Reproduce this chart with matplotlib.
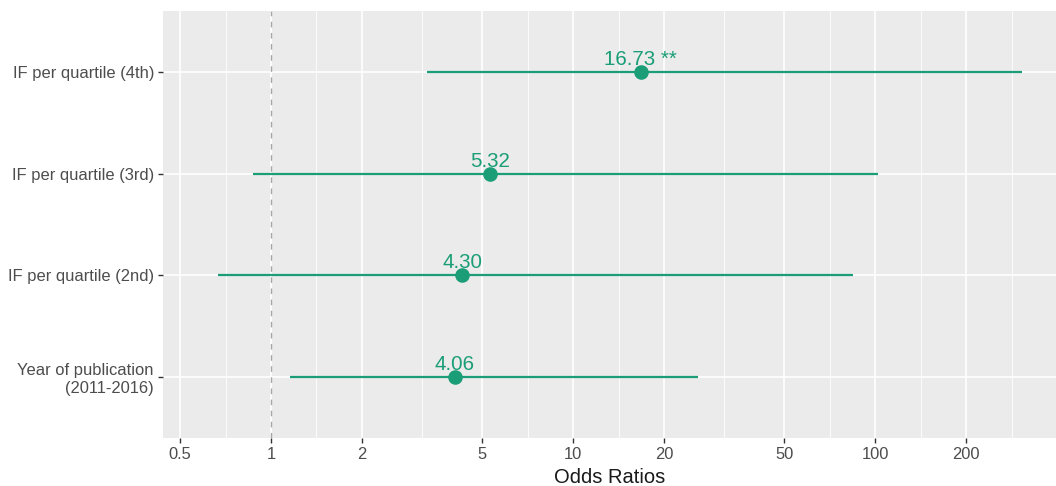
import numpy as np
import matplotlib
matplotlib.use("Agg")
import matplotlib.pyplot as plt
from matplotlib.ticker import FixedLocator, NullFormatter

plt.rcParams['font.family'] = ['Liberation Sans', 'DejaVu Sans']

# Data
terms = ["Year of publication\n(2011-2016)", "IF per quartile (2nd)", "IF per quartile (3rd)", "IF per quartile (4th)"]
estimates = [4.06, 4.30, 5.32, 16.73]
conf_low = [1.156, 0.670, 0.874, 3.28]
conf_high = [25.9, 84.4, 102.6, 306.0]
labels = ["4.06", "4.30", "5.32", "16.73 **"]
xticks = [0.5, 1, 2, 5, 10, 20, 50, 100, 200]
xtick_labels = ["0.5", "1", "2", "5", "10", "20", "50", "100", "200"]

color = "#1b9e77"
W, H = 1056, 486
fig = plt.figure(figsize=(W / 100, H / 100), dpi=100)
ax = fig.add_axes([163 / W, (H - 438) / H, (W - 163) / W, (438 - 11) / H])
ax.set_facecolor("#ebebeb")
for s in ax.spines.values():
    s.set_visible(False)

ax.set_xscale("log")
ax.set_xlim(0.439, 397)
ax.set_ylim(0.4, 4.6)

# Grid
majors = xticks
minors = [np.sqrt(majors[i] * majors[i + 1]) for i in range(len(majors) - 1)] + [np.sqrt(200 * 400)]
for m in minors:
    ax.axvline(m, color="white", lw=0.6, zorder=0)
for m in majors:
    ax.axvline(m, color="white", lw=1.2, zorder=0)
ypos = np.arange(1, len(terms) + 1)
for y in ypos:
    ax.axhline(y, color="white", lw=1.2, zorder=0)

ax.axvline(1, color="#a6a6a6", lw=1.0, ls=(0, (4, 4)), zorder=1)

ax.hlines(ypos, conf_low, conf_high, color=color, lw=1.6, zorder=2)
ax.scatter(estimates, ypos, s=110, color=color, zorder=3, linewidths=0)
for x, y, t in zip(estimates, ypos, labels):
    ax.text(x, y + 0.03, t, color=color, fontsize=14.8, ha="center", va="bottom", zorder=4)

ax.xaxis.set_major_locator(FixedLocator(xticks))
ax.set_xticklabels(xtick_labels)
ax.xaxis.set_minor_locator(FixedLocator([]))
ax.xaxis.set_minor_formatter(NullFormatter())
ax.set_yticks(ypos)
ax.set_yticklabels(terms, multialignment="right", linespacing=1.2)
ax.tick_params(axis="both", colors="#333333", length=3.5, width=1.0, labelsize=11.9,
               labelcolor="#4d4d4d", pad=3)
ax.set_xlabel("Odds Ratios", fontsize=14.5, color="#1a1a1a", labelpad=4)

fig.savefig("out.png", dpi=100)
